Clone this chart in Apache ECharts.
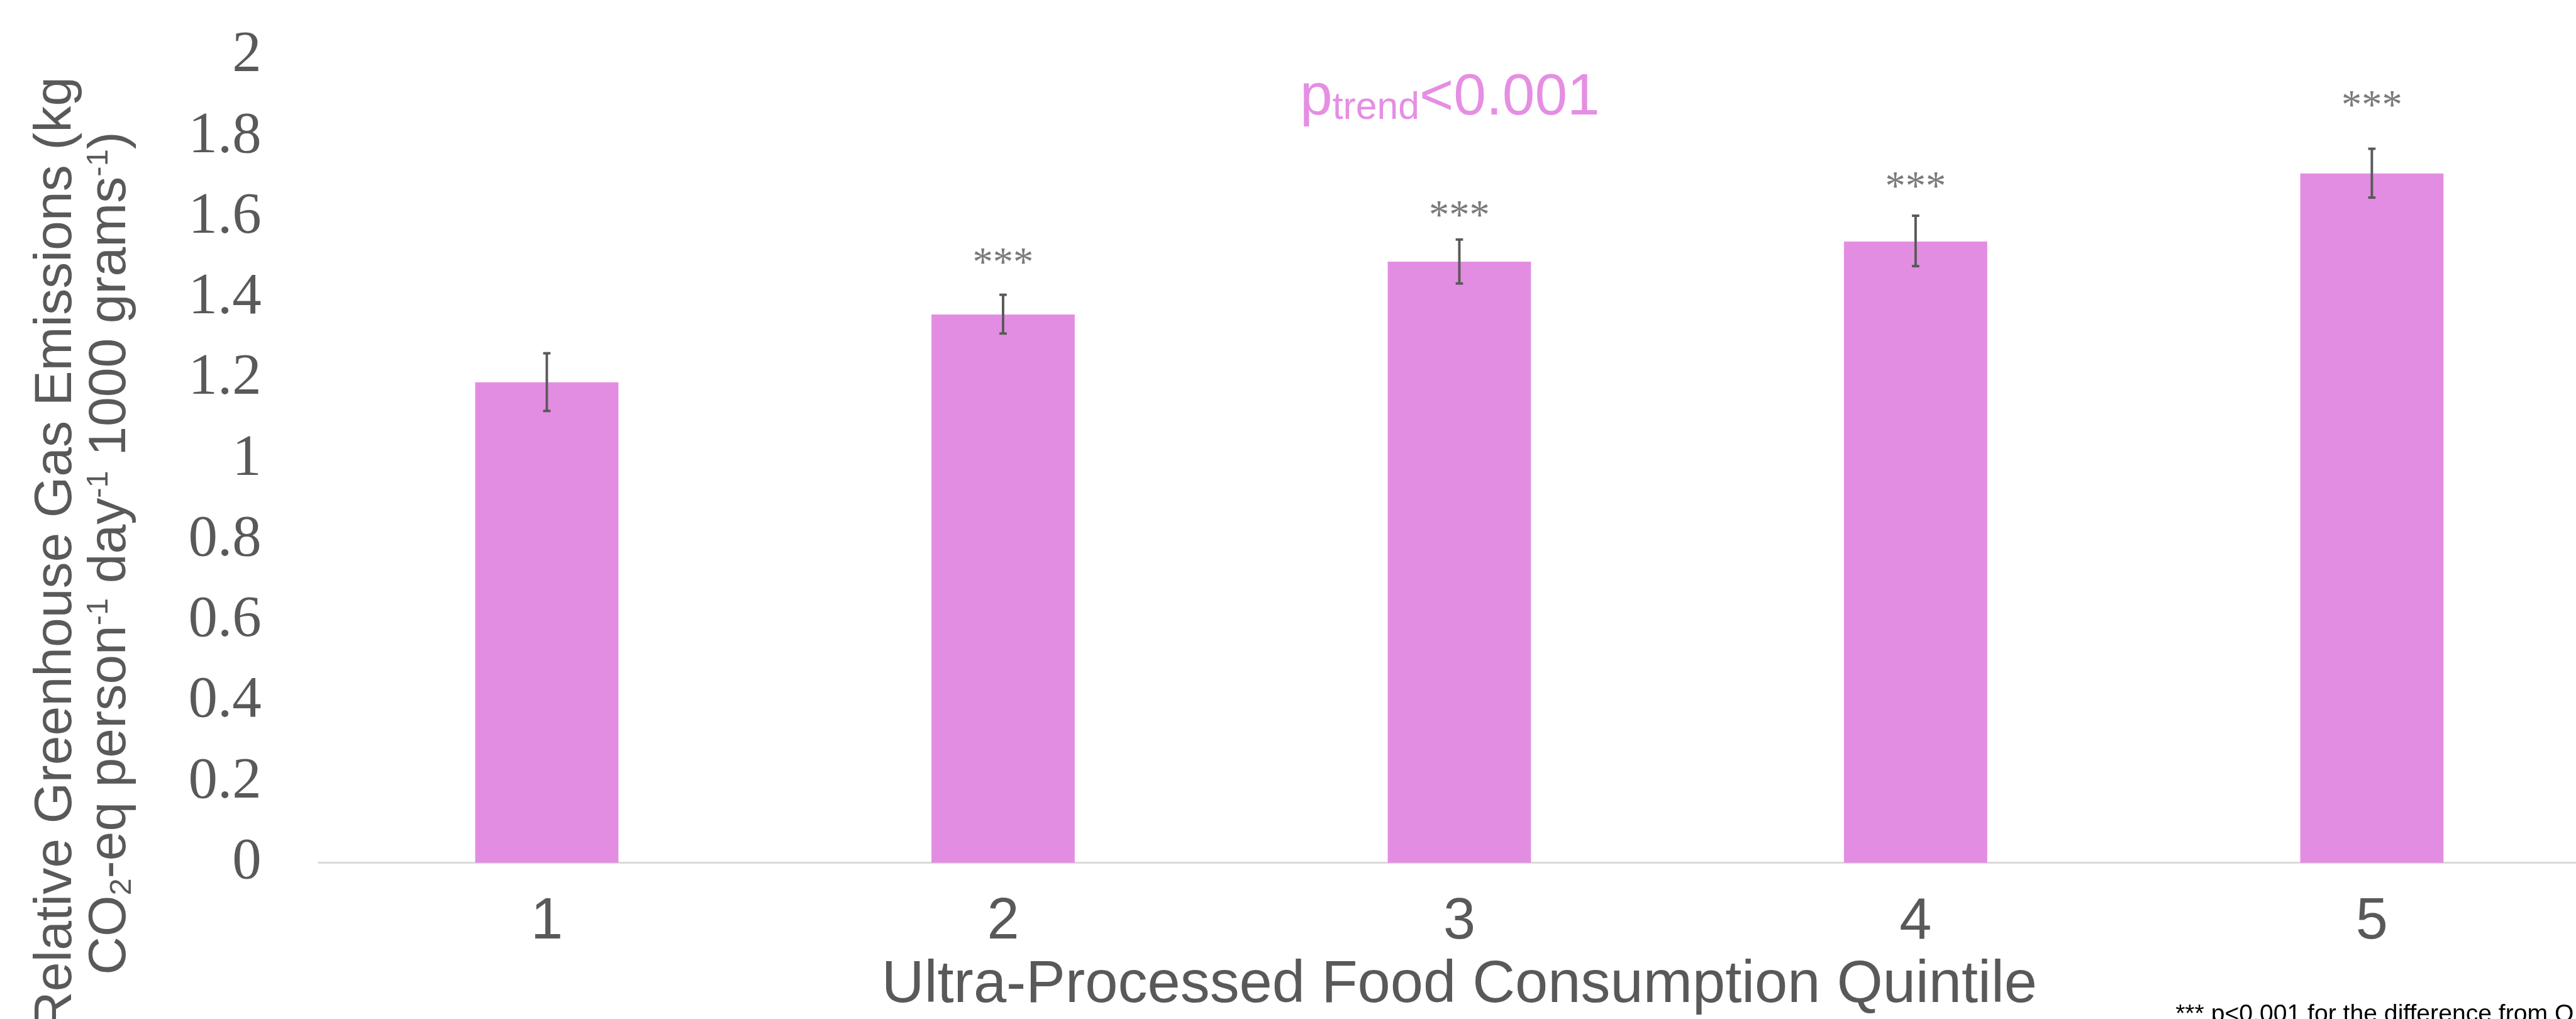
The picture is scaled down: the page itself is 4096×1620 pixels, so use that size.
<!DOCTYPE html>
<html>
<head>
<meta charset="utf-8">
<script src="https://cdn.jsdelivr.net/npm/echarts@6/dist/echarts.min.js"></script>
<style>
  html, body { margin: 0; padding: 0; background: #fff; }
  #chart { width: 4096px; height: 1620px; }
</style>
</head>
<body>
<div id="chart"></div>
<script>
// quintiles of ultra-processed food consumption
const quintiles = ['1', '2', '3', '4', '5']
// relative GHG emissions, kg CO2-eq per person per day per 1000 g
const emissions = [1.191, 1.359, 1.490, 1.540, 1.709]
const errLow = [1.120, 1.312, 1.436, 1.479, 1.649]
const errHigh = [1.263, 1.408, 1.545, 1.604, 1.770]
// where the *** marks sit (null = no mark for Q1)
const starLevel = [null, 1.504, 1.620, 1.693, 1.893]
const yTicks = { min: 0, max: 2, step: 0.2 }

const S = 4096 / 4187 // reference was drawn at 4187 wide
const px = v => v * S

const grey = '#595959'
const pink = '#E38DE2'

const chart = echarts.init(document.getElementById('chart'))

const errData = quintiles.map((q, i) => [i, errLow[i], errHigh[i]])
const starData = quintiles.map((q, i) => [i, starLevel[i]])

chart.setOption({
  animation: false,
  grid: {
    left: px(518),
    right: px(-39),
    top: px(91),
    bottom: px(254),
    outerBoundsMode: 'none',
    containLabel: false
  },
  xAxis: {
    type: 'category',
    data: quintiles,
    axisTick: { show: false },
    axisLine: { lineStyle: { color: '#D9D9D9', width: px(3) } },
    axisLabel: {
      margin: px(50),
      color: grey,
      fontFamily: 'Liberation Sans',
      fontSize: px(94)
    },
    name: 'Ultra-Processed Food Consumption Quintile',
    nameLocation: 'middle',
    nameGap: px(152),
    nameTextStyle: {
      color: grey,
      fontFamily: 'Liberation Sans',
      fontSize: px(96)
    }
  },
  yAxis: {
    type: 'value',
    min: yTicks.min,
    max: yTicks.max,
    interval: yTicks.step,
    axisLine: { show: false },
    axisTick: { show: false },
    splitLine: { show: false },
    axisLabel: {
      margin: px(93),
      color: grey,
      fontFamily: 'Liberation Serif',
      fontSize: px(95)
    }
  },
  series: [
    {
      type: 'bar',
      data: emissions,
      barWidth: '31.4%',
      itemStyle: { color: pink }
    },
    {
      type: 'custom',
      data: errData,
      z: 5,
      renderItem: function(params, api) {
        const lo = api.coord([api.value(0), api.value(1)])
        const hi = api.coord([api.value(0), api.value(2)])
        const w = px(6)
        const style = { stroke: grey, lineWidth: px(4) }
        return {
          type: 'group',
          children: [
            { type: 'line', shape: { x1: lo[0], y1: lo[1], x2: hi[0], y2: hi[1] }, style: style },
            { type: 'line', shape: { x1: lo[0] - w, y1: lo[1], x2: lo[0] + w, y2: lo[1] }, style: style },
            { type: 'line', shape: { x1: hi[0] - w, y1: hi[1], x2: hi[0] + w, y2: hi[1] }, style: style }
          ]
        }
      }
    },
    {
      type: 'scatter',
      data: starData,
      symbolSize: 0,
      silent: true,
      label: {
        show: true,
        position: 'inside',
        formatter: '***',
        offset: [0, px(14)],
        color: grey,
        fontFamily: 'Liberation Serif',
        fontSize: px(66)
      }
    }
  ],
  graphic: [
    {
      // y axis title, two lines, rotated
      type: 'text',
      x: px(136),
      y: px(899),
      rotation: Math.PI / 2,
      style: {
        text: '{m|Relative Greenhouse Gas Emissions (kg}\n' +
          '{m|CO}{sub|2}{m|-eq person}{sup|-1}{m| day}{sup|-1}{m| 1000 grams}{sup|-1}{m|)}',
        align: 'center',
        verticalAlign: 'middle',
        fill: grey,
        fontFamily: 'Liberation Sans',
        fontSize: px(86),
        lineHeight: px(88),
        rich: {
          m: { fontSize: px(86), lineHeight: px(88), verticalAlign: 'middle', fill: grey, fontFamily: 'Liberation Sans' },
          sup: { fontSize: px(50), lineHeight: px(59), verticalAlign: 'top', fill: grey, fontFamily: 'Liberation Sans' },
          sub: { fontSize: px(50), lineHeight: px(36), verticalAlign: 'bottom', fill: grey, fontFamily: 'Liberation Sans' }
        }
      }
    },
    {
      // p for trend
      type: 'text',
      x: px(2113),
      y: px(112),
      style: {
        text: '{m|p}{sub|trend}{m|<0.001}',
        align: 'left',
        verticalAlign: 'top',
        fill: '#E58EE3',
        fontFamily: 'Liberation Sans',
        fontSize: px(95),
        rich: {
          m: { fontSize: px(95), lineHeight: px(95), verticalAlign: 'middle', fill: '#E58EE3', fontFamily: 'Liberation Sans' },
          sub: { fontSize: px(62), lineHeight: px(32), verticalAlign: 'bottom', fill: '#E58EE3', fontFamily: 'Liberation Sans' }
        }
      }
    },
    {
      // footnote, cut by the bottom edge like the reference
      type: 'text',
      x: px(3536),
      y: px(1649),
      style: {
        text: '*** p<0.001 for the difference from Q1',
        align: 'left',
        verticalAlign: 'middle',
        fill: '#000',
        fontFamily: 'Liberation Sans',
        fontSize: px(40)
      }
    }
  ]
})
</script>
</body>
</html>
